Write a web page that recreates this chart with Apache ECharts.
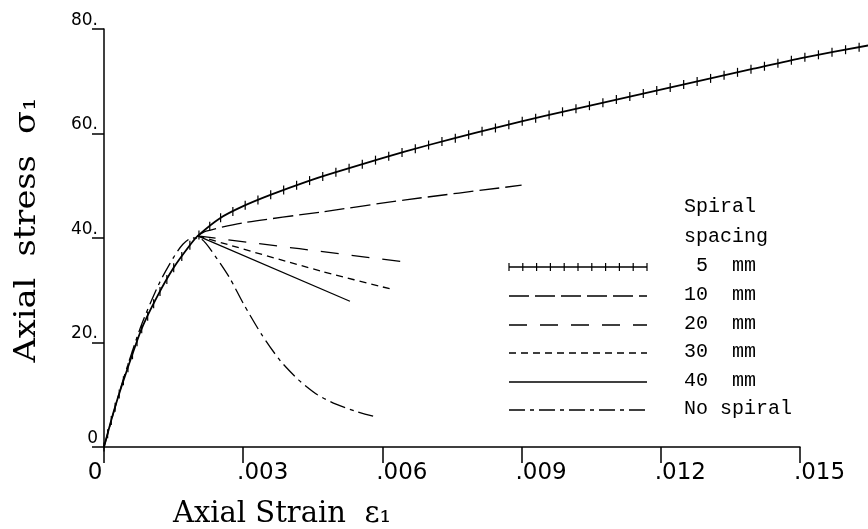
<!DOCTYPE html>
<html>
<head>
<meta charset="utf-8">
<script src="https://cdn.jsdelivr.net/npm/echarts@6/dist/echarts.min.js"></script>
<style>
html, body { margin: 0; padding: 0; background: #fff; }
#chart { width: 868px; height: 529px; }
</style>
</head>
<body>
<div id="chart"></div>
<script>
// values
const spacingNames = ['5 mm', '10 mm', '20 mm', '30 mm', '40 mm', 'No spiral']
const xTicks = [0, 0.003, 0.006, 0.009, 0.012, 0.015]
const yTicks = [0, 20, 40, 60, 80]

const strain5 = [0, 0.0002, 0.0004, 0.0008, 0.00114, 0.0015, 0.00185, 0.00202, 0.0025, 0.003, 0.0036, 0.0044, 0.005, 0.006, 0.007, 0.008, 0.009, 0.010, 0.011, 0.012, 0.013, 0.014, 0.015, 0.0165]
const stress5 = [0, 6.5, 12.2, 22.4, 28.7, 34.3, 38.6, 40.4, 43.8, 46.1, 48.3, 50.9, 52.6, 55.3, 57.8, 60.1, 62.3, 64.4, 66.4, 68.4, 70.4, 72.4, 74.4, 76.9]

const strain10 = [0.00202, 0.0022, 0.003, 0.0047, 0.0065, 0.009]
const stress10 = [40.4, 41.3, 42.9, 45.0, 47.3, 50.1]

const strain20 = [0.00202, 0.0064]
const stress20 = [40.4, 35.5]

const strain30 = [0.00202, 0.0047, 0.0062]
const stress30 = [40.4, 33.6, 30.2]

const strain40 = [0.00202, 0.0053]
const stress40 = [40.4, 27.9]

const strainNo = [0, 0.0004, 0.0008, 0.0012, 0.0015, 0.0017, 0.0019, 0.0021, 0.0024, 0.0027, 0.003, 0.0034, 0.0038, 0.0042, 0.0046, 0.005, 0.0054, 0.0058]
const stressNo = [0, 12.5, 23.2, 31.5, 36.3, 38.8, 40.0, 39.8, 36.5, 32.5, 27.5, 21.5, 16.5, 12.8, 10.0, 8.2, 6.9, 5.9]

const dashes = [null, [20, 6], [18, 13], [7, 5], null, [16, 5, 4, 5]]
const tickGap = 13.8

const pairs = (xs, ys) => xs.map((x, i) => [x, ys[i]])

// small vertical bars spaced evenly along a pixel polyline
function crossTicks (pts, gap, half) {
  const out = []
  let carry = 0
  for (let i = 0; i < pts.length - 1; i++) {
    const [x1, y1] = pts[i]
    const [x2, y2] = pts[i + 1]
    const len = Math.hypot(x2 - x1, y2 - y1)
    let d = carry
    while (d <= len) {
      const t = len ? d / len : 0
      const x = x1 + (x2 - x1) * t
      const y = y1 + (y2 - y1) * t
      out.push({ type: 'line', shape: { x1: x, y1: y - half, x2: x, y2: y + half }, style: { stroke: '#000', lineWidth: 1.2 } })
      d += gap
    }
    carry = d - len
  }
  return out
}

function lineSeries (name, data, dash, width) {
  return {
    name: name,
    type: 'line',
    data: data,
    smooth: 0.25,
    clip: false,
    showSymbol: false,
    silent: true,
    lineStyle: { color: '#000', width: width, type: dash || 'solid' }
  }
}

const legendFont = '20px "Liberation Mono"'
const legendRows = [267, 296, 325, 353, 382, 410]
const legendGraphics = [
  { type: 'text', left: 684, top: 197, style: { text: 'Spiral', font: legendFont, fill: '#000' } },
  { type: 'text', left: 684, top: 227, style: { text: 'spacing', font: legendFont, fill: '#000' } },
  {
    type: 'text', x: 27, y: 230, rotation: Math.PI / 2, scaleX: 1.12,
    style: { text: 'Axial  stress  σ₁', font: '30px "DejaVu Serif"', fill: '#000', align: 'center', verticalAlign: 'middle' }
  }
]
spacingNames.forEach((name, i) => {
  const y = legendRows[i]
  legendGraphics.push({
    type: 'line',
    shape: { x1: 509, y1: y, x2: 647, y2: y },
    style: { stroke: '#000', lineWidth: i === 0 ? 1.6 : 1.3, lineDash: dashes[i] || null }
  })
  if (i === 0) {
    crossTicks([[509, y], [647, y]], tickGap, 4).forEach(t => legendGraphics.push(t))
  }
  const label = name.indexOf('mm') > 0 ? name.replace(' ', '  ').padStart(6, ' ') : name
  legendGraphics.push({
    type: 'text', left: 684, top: y - 11,
    style: { text: label, font: legendFont, fill: '#000' }
  })
})

const chart = echarts.init(document.getElementById('chart'))
chart.setOption({
  animation: false,
  backgroundColor: '#fff',
  grid: { left: 104, right: 68, top: 29, bottom: 82, outerBoundsMode: 'none' },
  xAxis: {
    type: 'value',
    min: xTicks[0],
    max: xTicks[xTicks.length - 1],
    interval: xTicks[1] - xTicks[0],
    name: 'Axial Strain  ε₁',
    nameLocation: 'middle',
    nameGap: 53,
    nameTextStyle: { fontFamily: 'DejaVu Serif', fontSize: 29, color: '#000', padding: [0, 340, 0, 0] },
    axisLine: { lineStyle: { color: '#000', width: 1.5 } },
    axisTick: { length: 16, lineStyle: { color: '#000', width: 1.5 } },
    splitLine: { show: false },
    axisLabel: {
      margin: 15,
      color: '#000',
      fontFamily: 'DejaVu Sans',
      fontSize: 23,
      formatter: v => v === 0 ? '{z|0}' : '{t|.' + String(Math.round(v * 1000)).padStart(3, '0') + '}',
      rich: {
        z: { fontFamily: 'DejaVu Sans', fontSize: 23, color: '#000', padding: [0, 18, 0, 0] },
        t: { fontFamily: 'DejaVu Sans', fontSize: 23, color: '#000', padding: [0, 0, 0, 39] }
      }
    }
  },
  yAxis: {
    type: 'value',
    min: yTicks[0],
    max: yTicks[yTicks.length - 1],
    interval: yTicks[1] - yTicks[0],
    axisLine: { lineStyle: { color: '#000', width: 1.5 } },
    axisTick: { length: 12, lineStyle: { color: '#000', width: 1.5 } },
    splitLine: { show: false },
    axisLabel: {
      margin: 6,
      color: '#000',
      fontFamily: 'DejaVu Sans',
      fontSize: 17,
      verticalAlign: 'bottom',
      formatter: v => v === 0 ? '0' : v + '.'
    }
  },
  graphic: legendGraphics,
  series: [
    {
      // 5 mm curve: line plus its cross ticks, drawn unclipped past the axis end
      name: spacingNames[0],
      type: 'custom',
      silent: true,
      clip: false,
      data: pairs(strain5, stress5),
      renderItem: (params, api) => {
        if (params.dataIndex !== 0) return null
        const pts = strain5.map((x, i) => api.coord([x, stress5[i]]))
        const children = [{
          type: 'polyline',
          shape: { points: pts, smooth: 0.2 },
          style: { stroke: '#000', lineWidth: 1.8, fill: null }
        }]
        return { type: 'group', children: children.concat(crossTicks(pts, tickGap, 4.5)) }
      }
    },
    lineSeries(spacingNames[1], pairs(strain10, stress10), dashes[1], 1.3),
    lineSeries(spacingNames[2], pairs(strain20, stress20), dashes[2], 1.3),
    lineSeries(spacingNames[3], pairs(strain30, stress30), dashes[3], 1.3),
    lineSeries(spacingNames[4], pairs(strain40, stress40), null, 1.3),
    lineSeries(spacingNames[5], pairs(strainNo, stressNo), dashes[5], 1.3)
  ]
})
</script>
</body>
</html>
